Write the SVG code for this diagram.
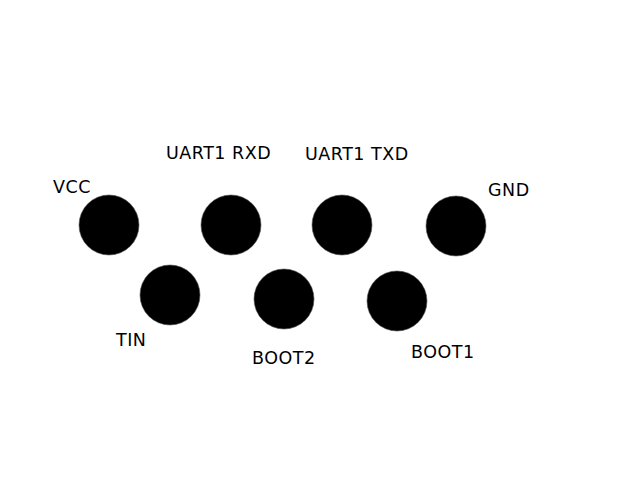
<svg xmlns="http://www.w3.org/2000/svg" width="640" height="480" viewBox="0 0 640 480">
<style>
.pin{fill:#000;stroke:#555;stroke-width:0.6}
.lbl{font-family:"DejaVu Sans",sans-serif;font-size:17.5px;letter-spacing:0.5px;fill:#000}
</style>
<rect width="640" height="480" fill="#fff"/>
<g id="connectors"/>
<g id="vcc"><circle class="pin" cx="109" cy="225" r="30"/><text class="lbl" x="53" y="193">VCC</text></g>
<g id="uart1-rxd"><circle class="pin" cx="231" cy="225" r="30"/><text class="lbl" x="166" y="159">UART1 RXD</text></g>
<g id="uart1-txd"><circle class="pin" cx="342" cy="225" r="30"/><text class="lbl" x="305" y="160">UART1 TXD</text></g>
<g id="gnd"><circle class="pin" cx="456" cy="226" r="30"/><text class="lbl" x="488" y="196">GND</text></g>
<g id="tin"><circle class="pin" cx="170" cy="295" r="30"/><text class="lbl" x="116" y="346">TIN</text></g>
<g id="boot2"><circle class="pin" cx="284" cy="299" r="30"/><text class="lbl" x="252" y="364">BOOT2</text></g>
<g id="boot1"><circle class="pin" cx="397" cy="301" r="30"/><text class="lbl" x="411" y="358">BOOT1</text></g>
</svg>
